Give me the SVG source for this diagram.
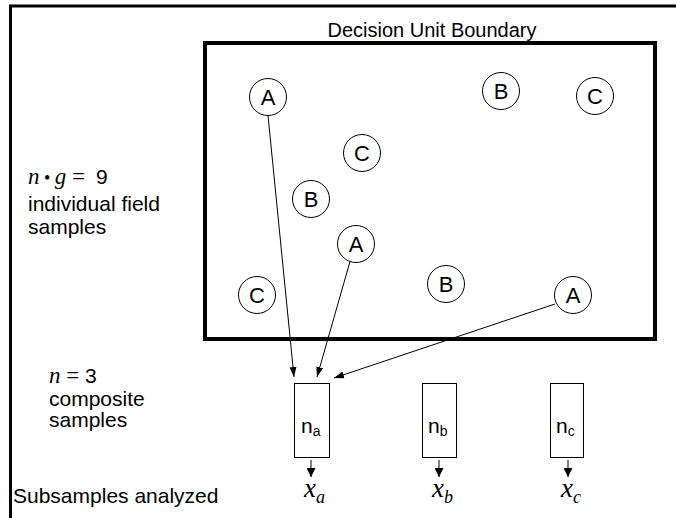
<svg xmlns="http://www.w3.org/2000/svg" width="676" height="518" viewBox="0 0 676 518">
<defs>
<marker id="ah" viewBox="0 0 10 10" refX="10" refY="5" markerWidth="10" markerHeight="10" markerUnits="userSpaceOnUse" orient="auto">
<path d="M0,1.5 L10,5 L0,8.5 Z" fill="#000"/>
</marker>
<marker id="ah2" viewBox="0 0 10 10" refX="10" refY="5" markerWidth="9" markerHeight="9" markerUnits="userSpaceOnUse" orient="auto">
<path d="M0,0 L10,5 L0,10 Z" fill="#000"/>
</marker>
</defs>
<style>
.t{font-family:"Liberation Sans",Arial,sans-serif;fill:#000}
.m{font-family:"Liberation Serif","Times New Roman",serif;font-style:italic;fill:#000}
.s{font-family:"Liberation Serif","Times New Roman",serif;fill:#000}
.c{fill:#fff;stroke:#000;stroke-width:1}
.b{fill:#fff;stroke:#000;stroke-width:1}
.ln{stroke:#000;stroke-width:1;fill:none}
.cl{font-family:"Liberation Sans",Arial,sans-serif;font-size:22px;text-anchor:middle;fill:#000}
.lb{font-family:"Liberation Sans",Arial,sans-serif;font-size:21px;fill:#000}
</style>
<rect width="676" height="518" fill="#fff"/>
<path d="M10.5,518 V6 H676" fill="none" stroke="#000" stroke-width="3"/>
<g id="boundary">
<rect x="205" y="43" width="450" height="296" fill="none" stroke="#000" stroke-width="4"/>
<text class="t" x="432" y="37" font-size="20" text-anchor="middle">Decision Unit Boundary</text>
</g>
<g id="label-field">
<text class="lb" x="28" y="184"><tspan class="m" font-size="23">n</tspan><tspan class="s" font-size="18"> • </tspan><tspan class="m" font-size="23">g</tspan><tspan class="s" font-size="23"> = </tspan><tspan x="96">9</tspan></text>
<text class="lb" x="28" y="211">individual field</text>
<text class="lb" x="28" y="234">samples</text>
</g>
<g id="label-composite">
<text class="lb" x="49" y="383"><tspan class="m" font-size="23">n</tspan><tspan class="s" font-size="23"> = </tspan>3</text>
<text class="lb" x="49" y="406">composite</text>
<text class="lb" x="49" y="427">samples</text>
</g>
<g id="label-sub">
<text class="lb" x="13" y="503">Subsamples analyzed</text>
</g>
<g id="A1"><circle class="c" cx="268" cy="97" r="18.5"/><text class="cl" x="268" y="105">A</text></g>
<g id="C1"><circle class="c" cx="362" cy="153" r="18.5"/><text class="cl" x="362" y="161">C</text></g>
<g id="B1"><circle class="c" cx="311" cy="199" r="18.5"/><text class="cl" x="311" y="207">B</text></g>
<g id="A2"><circle class="c" cx="356" cy="244" r="18.5"/><text class="cl" x="356" y="252">A</text></g>
<g id="C2"><circle class="c" cx="257" cy="295" r="18.5"/><text class="cl" x="257" y="303">C</text></g>
<g id="B2"><circle class="c" cx="446" cy="284" r="18.5"/><text class="cl" x="446" y="292">B</text></g>
<g id="B3"><circle class="c" cx="501" cy="91" r="18.5"/><text class="cl" x="501" y="99">B</text></g>
<g id="C3"><circle class="c" cx="595" cy="96" r="18.5"/><text class="cl" x="595" y="104">C</text></g>
<g id="A3"><circle class="c" cx="573" cy="295" r="18.5"/><text class="cl" x="573" y="303">A</text></g>
<g id="na"><rect class="b" x="294.5" y="383.5" width="35" height="74"/><text class="t" x="301" y="433" font-size="21">n<tspan font-size="14" dy="3">a</tspan></text></g>
<g id="nb"><rect class="b" x="422.5" y="383.5" width="34" height="74"/><text class="t" x="428" y="433" font-size="21">n<tspan font-size="14" dy="3">b</tspan></text></g>
<g id="nc"><rect class="b" x="550.5" y="383.5" width="33" height="74"/><text class="t" x="556" y="433" font-size="21">n<tspan font-size="14" dy="3">c</tspan></text></g>
<g id="xa"><text class="m" x="304" y="497" font-size="27">x<tspan font-size="18" dy="6">a</tspan></text></g>
<g id="xb"><text class="m" x="432" y="497" font-size="27">x<tspan font-size="18" dy="6">b</tspan></text></g>
<g id="xc"><text class="m" x="561" y="497" font-size="27">x<tspan font-size="18" dy="6">c</tspan></text></g>
<g id="connectors">
<line class="ln" x1="268" y1="115.5" x2="294" y2="377" marker-end="url(#ah)"/>
<line class="ln" x1="350" y1="261.5" x2="317" y2="377" marker-end="url(#ah)"/>
<line class="ln" x1="555" y1="304" x2="334" y2="378" marker-end="url(#ah)"/>
<line class="ln" x1="311" y1="460" x2="311" y2="477" stroke-width="1.5" marker-end="url(#ah2)"/>
<line class="ln" x1="439" y1="460" x2="439" y2="477" stroke-width="1.5" marker-end="url(#ah2)"/>
<line class="ln" x1="568" y1="460" x2="568" y2="477" stroke-width="1.5" marker-end="url(#ah2)"/>
</g>
</svg>
